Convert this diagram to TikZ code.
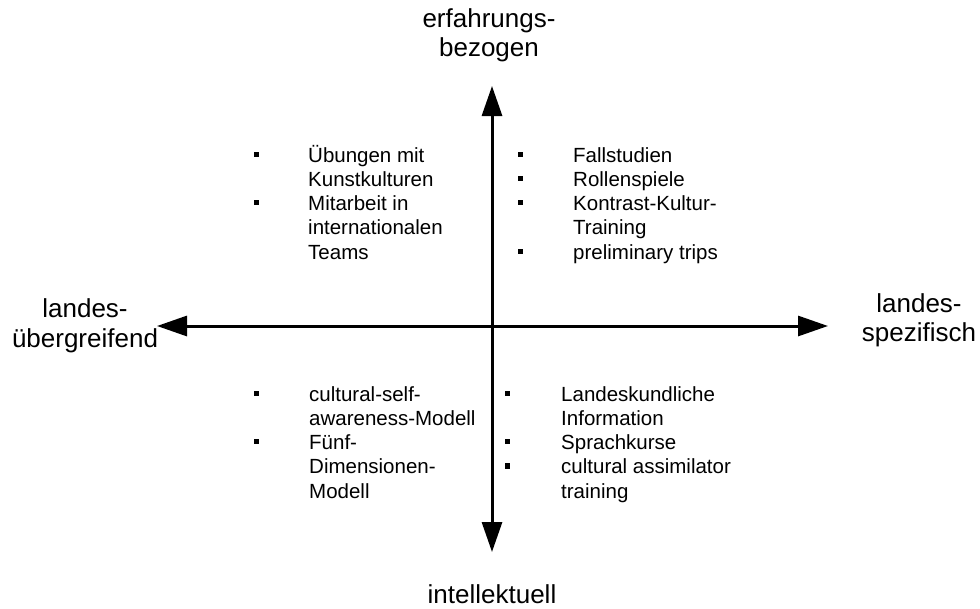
\documentclass[tikz,border=0pt]{standalone}
\usepackage{fontspec}
\setmainfont{Liberation Sans}
\usetikzlibrary{arrows.meta}

% small filled square used as list marker
\newcommand\sqmark{\rule[5.3pt]{5.2pt}{5.2pt}}

\begin{document}
\begin{tikzpicture}[x=1pt,y=-1pt,
  axisline/.style={line width=3pt,
    arrows={Triangle[length=30pt,width=20pt]-Triangle[length=30pt,width=20pt]}},
  axislabel/.style={inner sep=0pt,anchor=base,font=\fontsize{26}{29.5}\selectfont},
  itemlist/.style={inner sep=0pt,anchor=base west,font=\fontsize{20.5}{24.3}\selectfont}
]
\useasboundingbox (0,0) rectangle (980,608);

% axes
\coordinate (west)  at (157,326);
\coordinate (east)  at (828,326);
\coordinate (north) at (492,86);
\coordinate (south) at (492,552);
\draw[axisline] (west) -- (east);
\draw[axisline] (south) -- (north);

% axis labels
\node[axislabel] (lblN) at (489,27)
  {\begin{tabular}[t]{@{}c@{}}erfahrungs-\\bezogen\end{tabular}};
\node[axislabel] (lblS) at (492,603) {intellektuell};
\node[axislabel] (lblW) at (85,317.5)
  {\begin{tabular}[t]{@{}c@{}}landes-\\übergreifend\end{tabular}};
\node[axislabel] (lblE) at (919,312)
  {\begin{tabular}[t]{@{}c@{}}landes-\\spezifisch\end{tabular}};

% quadrant contents
\node[itemlist] (qNW) at (254,162)
  {\begin{tabular}[t]{@{}p{54pt}@{}l@{}}
   \sqmark & Übungen mit\\
           & Kunstkulturen\\
   \sqmark & Mitarbeit in\\
           & internationalen\\
           & Teams
   \end{tabular}};
\node[itemlist] (qNE) at (518,162)
  {\begin{tabular}[t]{@{}p{55pt}@{}l@{}}
   \sqmark & Fallstudien\\
   \sqmark & Rollenspiele\\
   \sqmark & Kontrast-Kultur-\\
           & Training\\
   \sqmark & preliminary trips
   \end{tabular}};
\node[itemlist] (qSW) at (254,401)
  {\begin{tabular}[t]{@{}p{55pt}@{}l@{}}
   \sqmark & cultural-self-\\
           & awareness-Modell\\
   \sqmark & Fünf-\\
           & Dimensionen-\\
           & Modell
   \end{tabular}};
\node[itemlist] (qSE) at (505,401)
  {\begin{tabular}[t]{@{}p{56pt}@{}l@{}}
   \sqmark & Landeskundliche\\
           & Information\\
   \sqmark & Sprachkurse\\
   \sqmark & cultural assimilator\\
           & training
   \end{tabular}};
\end{tikzpicture}
\end{document}
